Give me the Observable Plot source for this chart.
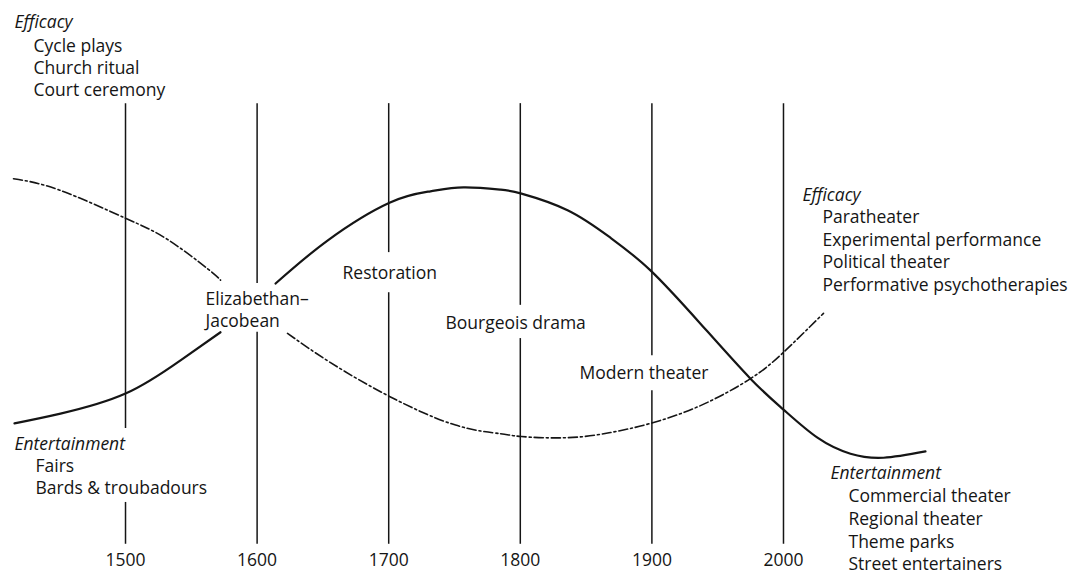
<!DOCTYPE html>
<html><head><meta charset="utf-8">
<script src="https://cdn.jsdelivr.net/npm/d3@7"></script>
<script src="https://cdn.jsdelivr.net/npm/@observablehq/plot@0.6"></script>
<style>body{margin:0;background:#fff}svg{display:block}</style>
</head><body><div id="chart"></div>
<script>
// x: year; y: relative level (0 = entertainment pole, 100 = efficacy pole)
const centuries = [1500, 1600, 1700, 1800, 1900, 2000];
const tickLabels = ["1500", "1600", "1700", "1800", "1900", "2000"];

// Solid curve (broken around the Elizabethan–Jacobean label)
const solidYears  = [1415.6, 1450.6, 1500, 1541.8, 1572.2, 1614.0, 1653.5, 1700.6, 1731.7, 1756.8, 1784.9, 1800.9, 1835.9, 1868.5, 1898.9, 1936.9, 1974.9, 2000, 2025.8, 2050.9, 2076.0, 2107.9];
const solidLevels = [26.2, 27.9, 31.4, 37.2, 42.1, 50.6, 58.1, 64.7, 66.7, 67.4, 67.0, 66.3, 63.4, 58.6, 52.9, 43.6, 34.0, 28.6, 23.7, 20.9, 20.2, 21.3];
const solidPart   = [0, 0, 0, 0, 0, 1, 1, 1, 1, 1, 1, 1, 1, 1, 1, 1, 1, 1, 1, 1, 1, 1];

// Dash-dot curve
const dashYears  = [1414.9, 1450.0, 1500, 1531.9, 1562.3, 1572.2, 1623.1, 1655.8, 1700.6, 1750.8, 1784.9, 1800.9, 1835.9, 1868.5, 1898.9, 1936.9, 1974.9, 2000, 2030.4];
const dashLevels = [68.9, 66.9, 62.0, 58.3, 53.2, 51.2, 41.9, 36.8, 30.9, 25.9, 24.4, 23.9, 23.7, 24.6, 26.2, 29.3, 34.0, 38.6, 45.4];
const dashPart   = [0, 0, 0, 0, 0, 0, 1, 1, 1, 1, 1, 1, 1, 1, 1, 1, 1, 1, 1];

// Century rules, split where labels interrupt them
const ruleYears = [1500, 1500, 1600, 1600, 1700, 1700, 1800, 1800, 1900, 1900, 2000];
const ruleFrom  = [82.0, 12.4, 82.0, 42.1, 82.0, 49.0, 82.0, 41.0, 82.0, 31.9, 82.0];
const ruleTo    = [25.3, 5.1, 50.6, 5.1, 56.0, 5.1, 46.8, 5.1, 38.0, 5.1, 5.1];

// Headings (italic)
const headText   = ["Efficacy", "Efficacy", "Entertainment", "Entertainment"];
const headYears  = [1415.6, 2014.4, 1415.6, 2035.7];
const headLevels = [96.2, 66.0, 22.5, 17.5];

// Lists under headings
const itemText = ["Cycle plays", "Church ritual", "Court ceremony",
  "Paratheater", "Experimental performance", "Political theater", "Performative psychotherapies",
  "Fairs", "Bards & troubadours",
  "Commercial theater", "Regional theater", "Theme parks", "Street entertainers"];
const itemYears = [1430.1, 1430.1, 1430.1,
  2029.6, 2029.6, 2029.6, 2029.6,
  1431.6, 1431.6,
  2049.4, 2049.4, 2049.4, 2049.4];
const itemLevels = [92.0, 88.1, 84.3,
  62.1, 58.2, 54.3, 50.3,
  18.7, 14.8,
  13.4, 9.4, 5.5, 1.6];

// Era labels
const eraText   = ["Elizabethan–", "Jacobean", "Restoration", "Bourgeois drama", "Modern theater"];
const eraYears  = [1560.8, 1560.8, 1664.9, 1743.1, 1845.0];
const eraLevels = [47.9, 44.0, 52.4, 43.6, 34.9];

const solid = solidYears.map((x, i) => ({x, y: solidLevels[i], z: solidPart[i]}));
const dash = dashYears.map((x, i) => ({x, y: dashLevels[i], z: dashPart[i]}));
const rules = ruleYears.map((x, i) => ({x, y1: ruleFrom[i], y2: ruleTo[i]}));
const heads = headText.map((t, i) => ({t, x: headYears[i], y: headLevels[i]}));
const items = itemText.map((t, i) => ({t, x: itemYears[i], y: itemLevels[i]}));
const eras = eraText.map((t, i) => ({t, x: eraYears[i], y: eraLevels[i]}));

const font = "'Open Sans', Lato, sans-serif";
const ink = "#151515";
const fs = 17.5;

const chart = Plot.plot({
  width: 1090,
  height: 573,
  marginLeft: 0, marginRight: 0, marginTop: 0, marginBottom: 24,
  style: {fontFamily: font, fontSize: fs + "px", color: ink, background: "#fff", overflow: "visible"},
  x: {domain: [1405.0, 2233.3], range: [0, 1090]},
  y: {domain: [0, 100], range: [573, 0], axis: null},
  marks: [
    Plot.ruleX(rules, {x: "x", y1: "y1", y2: "y2", stroke: ink, strokeWidth: 1.5}),
    Plot.line(solid, {x: "x", y: "y", z: "z", stroke: ink, strokeWidth: 2.2, curve: "natural"}),
    Plot.line(dash, {x: "x", y: "y", z: "z", stroke: ink, strokeWidth: 1.6, strokeDasharray: "9,3,2,3", curve: "natural"}),
    Plot.text(heads, {x: "x", y: "y", text: "t", textAnchor: "start", fontStyle: "italic", fontSize: fs, fill: ink}),
    Plot.text(items, {x: "x", y: "y", text: "t", textAnchor: "start", fontSize: fs, fill: ink}),
    Plot.text(eras, {x: "x", y: "y", text: "t", textAnchor: "start", fontSize: fs, fill: ink}),
    Plot.axisX(centuries, {tickSize: 0, tickPadding: 4, tickFormat: (d, i) => tickLabels[i], label: null, fontSize: fs, fill: ink})
  ]
});
document.getElementById("chart").appendChild(chart);
</script>
</body></html>
